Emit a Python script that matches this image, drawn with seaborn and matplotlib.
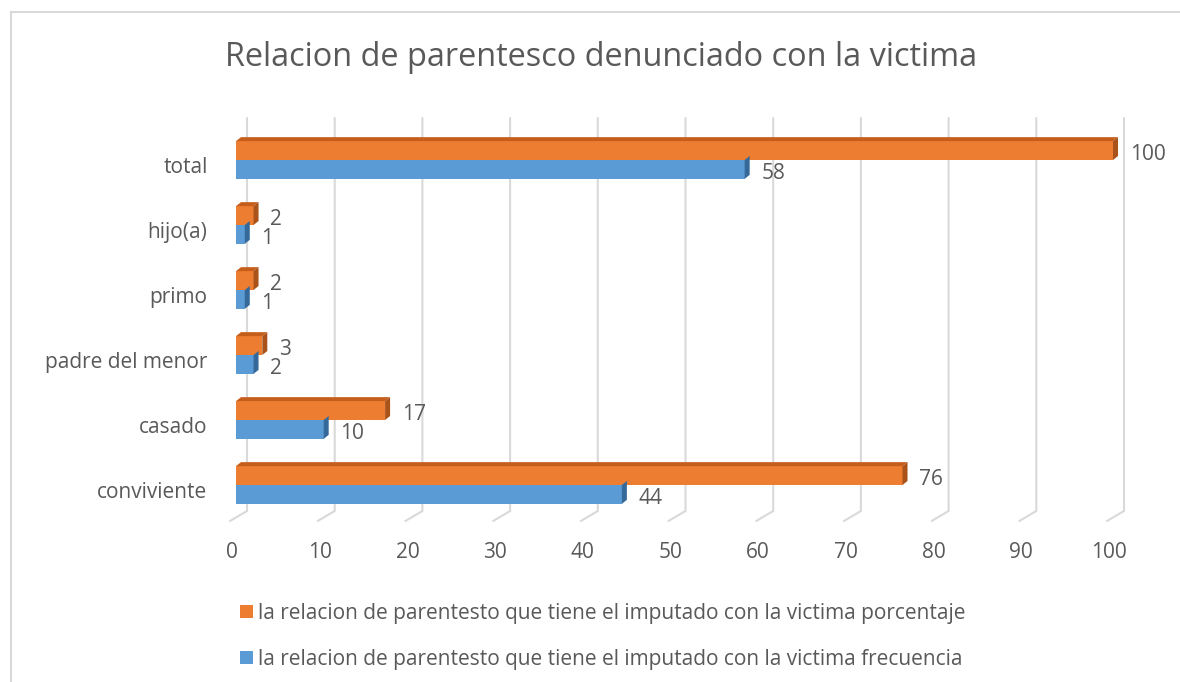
import matplotlib
matplotlib.use("Agg")
import matplotlib.pyplot as plt
import matplotlib.transforms as mtransforms
from matplotlib.patches import Polygon
from matplotlib.lines import Line2D
import pandas as pd
import seaborn as sns

# data
categorias = ["total", "hijo(a)", "primo", "padre del menor", "casado", "conviviente"]
porcentaje = [100, 2, 2, 3, 17, 76]
frecuencia = [58, 1, 1, 2, 10, 44]
serie_pct = "la relacion de parentesto que tiene el imputado con la victima porcentaje"
serie_frec = "la relacion de parentesto que tiene el imputado con la victima frecuencia"
ticks_x = list(range(0, 101, 10))

df = pd.concat([
    pd.DataFrame({"cat": categorias, "valor": porcentaje, "serie": serie_pct}),
    pd.DataFrame({"cat": categorias, "valor": frecuencia, "serie": serie_frec}),
])

sns.set_style("white")
plt.rcParams["font.family"] = ["Open Sans", "DejaVu Sans"]
GRIS = "#595959"
NARANJA, AZUL = "#ED7D31", "#5B9BD5"
PX, PY = 8.77, 65.0  # pixels per data unit

fig = plt.figure(figsize=(11.8, 6.82), dpi=100)
ax = fig.add_axes([220 / 1180, 162 / 682, 920 / 1180, 390 / 682])

sns.barplot(data=df, y="cat", x="valor", hue="serie", order=categorias,
            hue_order=[serie_pct, serie_frec], palette=[NARANJA, AZUL],
            saturation=1, linewidth=0, orient="h", width=0.58, ax=ax, zorder=3)

ax.set_xlim(-16 / PX, 904 / PX)
ax.set_ylim(360 / PY, -30 / PY)

# back wall gridlines with floor slant
for v in ticks_x:
    xb = v + 11 / PX
    ax.plot([xb, xb, xb - 17 / PX], [-42 / PY, 351 / PY, 361 / PY], color="#D9D9D9",
            lw=1.5, clip_on=False, zorder=1)

# faux 3D faces (top face only visible on the upper, orange bar)
dx, dy = 5 / PX, -4 / PY
caras = {NARANJA.lower(): ("#C55E1B", "#A9521A"), AZUL.lower(): (None, "#35699A")}
for p in list(ax.patches):
    w = p.get_width()
    if w <= 0:
        continue
    y0, h = p.get_y(), p.get_height()
    col = matplotlib.colors.to_hex(p.get_facecolor()).lower()
    top_c, side_c = caras.get(col, (None, "#666666"))
    if top_c:
        ax.add_patch(Polygon([(0, y0), (w, y0), (w + dx, y0 + dy), (dx, y0 + dy)],
                             closed=True, facecolor=top_c, edgecolor="none", zorder=3))
    ax.add_patch(Polygon([(w, y0), (w + dx, y0 + dy), (w + dx, y0 + h + dy), (w, y0 + h)],
                         closed=True, facecolor=side_c, edgecolor="none", zorder=3))
    ax.annotate(f"{w:g}", (w, y0 + h / 2), xytext=(12, -3), textcoords="offset points",
                ha="left", va="center", fontsize=15, color=GRIS)

for s in ax.spines.values():
    s.set_visible(False)
ax.set_xlabel("")
ax.set_ylabel("")
ax.set_xticks(ticks_x)
ax.tick_params(axis="x", length=0, pad=16, labelsize=15, labelcolor=GRIS)
ax.tick_params(axis="y", length=0, pad=9, labelsize=15, labelcolor=GRIS)
offx = mtransforms.ScaledTranslation(-4 / 100, 0, fig.dpi_scale_trans)
for lbl in ax.get_xticklabels():
    lbl.set_transform(lbl.get_transform() + offx)
offy = mtransforms.ScaledTranslation(0, -5 / 100, fig.dpi_scale_trans)
for lbl in ax.get_yticklabels():
    lbl.set_transform(lbl.get_transform() + offy)

fig.text(601 / 1180, 1 - 57 / 682, "Relacion de parentesco denunciado con la victima",
         ha="center", va="center", fontsize=23.4, color=GRIS)

sns.move_legend(ax, loc="upper left", bbox_to_anchor=(221 / 1180, 1 - 584 / 682),
                bbox_transform=fig.transFigure, title=None, frameon=False,
                fontsize=15, handlelength=0.62, handleheight=0.62,
                handletextpad=0.25, labelspacing=1.2, labelcolor=GRIS)

# outer chart frame
fig.add_artist(Line2D([11 / 1180, 11 / 1180], [0, 1 - 12 / 682], transform=fig.transFigure,
                      color="#D9D9D9", lw=1.5))
fig.add_artist(Line2D([11 / 1180, 1], [1 - 12 / 682, 1 - 12 / 682], transform=fig.transFigure,
                      color="#D9D9D9", lw=1.5))

fig.savefig("out.png", dpi=100)
